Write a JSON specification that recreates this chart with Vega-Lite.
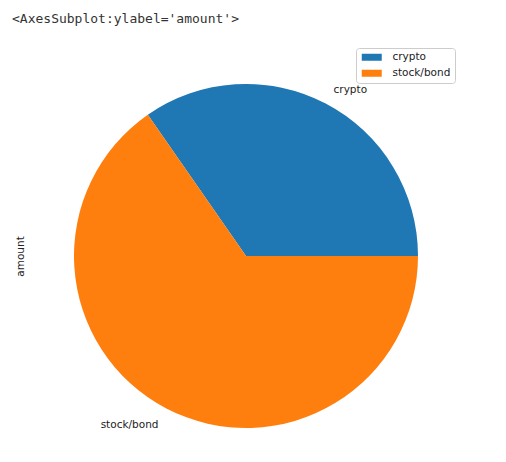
{
  "$schema": "https://vega.github.io/schema/vega-lite/v6.json",
  "width": 436,
  "height": 412,
  "autosize": {"type": "none"},
  "padding": {"left": 28, "top": 50, "right": 42, "bottom": 0},
  "background": "white",
  "view": {"stroke": null},
  "title": {
    "text": "<AxesSubplot:ylabel='amount'>",
    "anchor": "start",
    "frame": "group",
    "font": "DejaVu Sans Mono",
    "fontSize": 13,
    "fontWeight": "normal",
    "color": "#333333",
    "dx": -16,
    "offset": 22
  },
  "data": {
    "values": [
      {"label": "crypto", "amount": 34.67, "idx": 1},
      {"label": "stock/bond", "amount": 65.33, "idx": 0}
    ]
  },
  "encoding": {
    "theta": {"field": "amount", "type": "quantitative", "stack": true, "scale": {"range": [1.5708, 7.854]}},
    "order": {"field": "idx", "type": "quantitative"},
    "y": {
      "datum": "a",
      "type": "nominal",
      "scale": {"type": "point", "padding": 0.5},
      "axis": {
        "title": "amount",
        "labels": false,
        "ticks": false,
        "domain": false,
        "grid": false,
        "titleFont": "DejaVu Sans",
        "titleFontSize": 10.5,
        "titleFontWeight": "normal",
        "titleColor": "#222222",
        "titlePadding": 3
      }
    }
  },
  "layer": [
    {
      "mark": {"type": "arc", "outerRadius": 172},
      "encoding": {
        "color": {
          "field": "label",
          "type": "nominal",
          "scale": {"domain": ["crypto", "stock/bond"], "range": ["#1f77b4", "#ff7f0e"]},
          "legend": {
            "orient": "none",
            "legendX": 328,
            "legendY": -2,
            "title": null,
            "padding": 4,
            "strokeColor": "#cccccc",
            "fillColor": "white",
            "cornerRadius": 3,
            "symbolType": "M-2,-0.7H2V0.7H-2Z",
            "symbolSize": 100,
            "symbolStrokeWidth": 0,
            "symbolOffset": 6.5,
            "labelFont": "DejaVu Sans",
            "labelFontSize": 10.5,
            "labelColor": "#222222",
            "labelOffset": 15.5,
            "rowPadding": 5
          }
        }
      }
    },
    {
      "mark": {"type": "text", "radius": 189, "align": "left", "baseline": "middle", "dy": 1.5, "font": "DejaVu Sans", "fontSize": 10.5, "color": "#222222"},
      "encoding": {
        "detail": {"field": "label", "type": "nominal"},
        "text": {"condition": {"test": "datum.label === 'crypto'", "field": "label", "type": "nominal"}, "value": ""}
      }
    },
    {
      "mark": {"type": "text", "radius": 189, "align": "right", "baseline": "middle", "dy": 1.5, "font": "DejaVu Sans", "fontSize": 10.5, "color": "#222222"},
      "encoding": {
        "detail": {"field": "label", "type": "nominal"},
        "text": {"condition": {"test": "datum.label === 'stock/bond'", "field": "label", "type": "nominal"}, "value": ""}
      }
    }
  ]
}
